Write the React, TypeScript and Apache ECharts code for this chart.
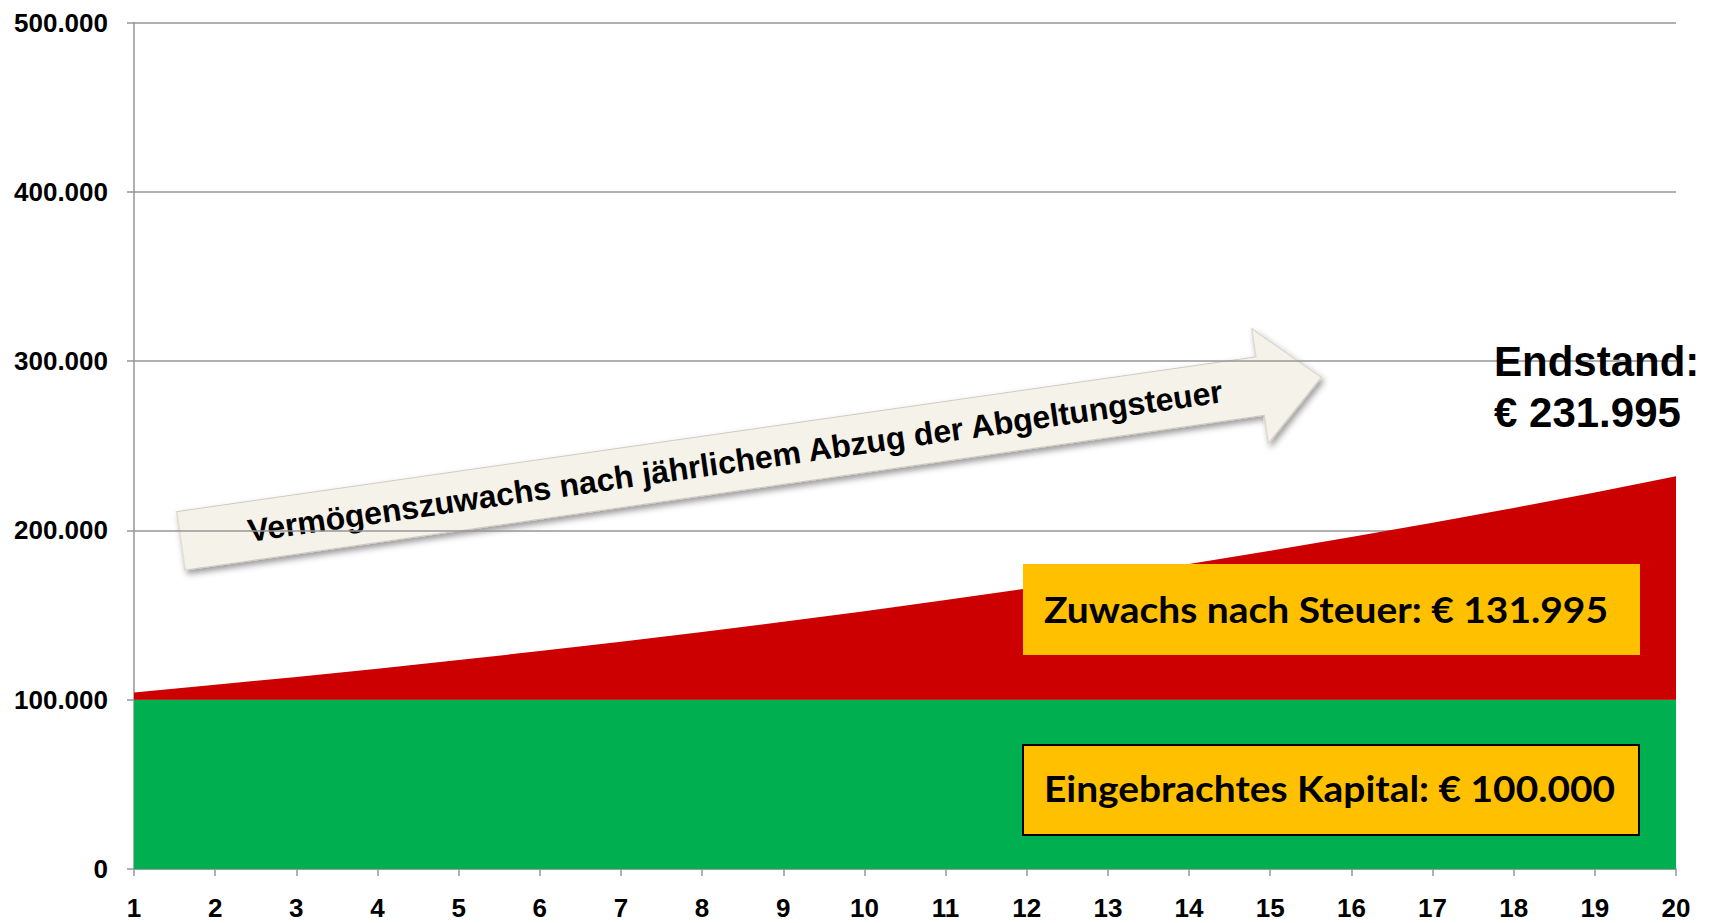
import React, { useEffect, useRef } from "react";
import * as echarts from "echarts";

const years = ["1","2","3","4","5","6","7","8","9","10","11","12","13","14","15","16","17","18","19","20"];
const capital = [100000,100000,100000,100000,100000,100000,100000,100000,100000,100000,100000,100000,100000,100000,100000,100000,100000,100000,100000,100000];
const endValues = [104297,108779,113453,118328,123413,128716,134247,140015,146032,152307,158851,165677,172796,180222,187966,196043,204467,213260,222430,231995];
const yTicks = { min: 0, max: 500000, interval: 100000 };

const arrowText = "Vermögenszuwachs nach jährlichem Abzug der Abgeltungsteuer";
const gainText = "Zuwachs nach Steuer: € 131.995";
const capitalText = "Eingebrachtes Kapital: € 100.000";
const endLine1 = "Endstand:";
const endLine2 = "€ 231.995";

const fmt = (v: number) => String(v).replace(/\B(?=(\d{3})+(?!\d))/g, ".");

function measure(text: string, font: string) {
  const c = document.createElement("canvas");
  const ctx = c.getContext("2d")!;
  ctx.font = font;
  return ctx.measureText(text).width;
}

export default function App() {
  const ref = useRef<HTMLDivElement>(null);
  useEffect(() => {
    if (!ref.current) return;
    const chart = echarts.init(ref.current, undefined, { renderer: "svg" });
    const gains = endValues.map((v, i) => v - capital[i]);
    const boxFont = "Lato, 'Open Sans', sans-serif";
    const boxSize = 36;
    const gainScale = 564 / measure(gainText, `bold ${boxSize}px Lato`);
    const capScale = 571 / measure(capitalText, `bold ${boxSize}px Lato`);
    const axisColor = "#969696";
    const labelFont = "'Liberation Sans', Arial, sans-serif";

    chart.setOption({
      animation: false,
      grid: { left: 134, right: 38, top: 22.5, bottom: 54 },
      xAxis: {
        type: "category",
        data: years,
        boundaryGap: false,
        axisLine: { show: true, lineStyle: { color: axisColor, width: 1.5 } },
        axisTick: { show: true, length: 7, lineStyle: { color: axisColor, width: 1.5 } },
        axisLabel: { fontSize: 26, fontWeight: "bold", color: "#000", fontFamily: labelFont, margin: 26 },
        splitLine: { show: false },
      },
      yAxis: {
        type: "value",
        min: yTicks.min,
        max: yTicks.max,
        interval: yTicks.interval,
        axisLine: { show: true, lineStyle: { color: axisColor, width: 1.5 } },
        axisTick: { show: true, length: 7, lineStyle: { color: axisColor, width: 1.5 } },
        axisLabel: { fontSize: 26, fontWeight: "bold", color: "#000", fontFamily: labelFont, margin: 26, formatter: (v: number) => fmt(v) },
        splitLine: { show: true, lineStyle: { color: axisColor, width: 1.5 } },
      },
      series: [
        {
          name: "Eingebrachtes Kapital",
          type: "line",
          stack: "total",
          data: capital,
          symbol: "none",
          lineStyle: { width: 0 },
          areaStyle: { color: "#00AF50", opacity: 1 },
        },
        {
          name: "Zuwachs nach Steuer",
          type: "line",
          stack: "total",
          data: gains,
          symbol: "none",
          lineStyle: { width: 0 },
          areaStyle: { color: "#CC0000", opacity: 1 },
        },
      ],
      graphic: [
        {
          type: "group",
          x: 180.8,
          y: 540.85,
          rotation: 0.1429,
          z: 100,
          children: [
            {
              type: "polygon",
              shape: {
                points: [[0, -29.5], [1090, -29.5], [1090, -58], [1152, 0], [1090, 58], [1090, 29.5], [0, 29.5]],
              },
              style: {
                fill: "#F5F2E9",
                stroke: "#CFCBC1",
                lineWidth: 1,
                shadowBlur: 6,
                shadowOffsetX: 2,
                shadowOffsetY: 4,
                shadowColor: "rgba(0,0,0,0.4)",
              },
            },
            {
              type: "text",
              x: 560,
              y: 0,
              style: {
                text: arrowText,
                font: `bold 32px ${labelFont}`,
                fill: "#000",
                align: "center",
                verticalAlign: "middle",
              },
            },
          ],
        },
        {
          type: "rect",
          z: 100,
          shape: { x: 1023, y: 564, width: 617, height: 91 },
          style: { fill: "#FFC000" },
        },
        {
          type: "text",
          z: 101,
          x: 1044,
          y: 609,
          scaleX: gainScale,
          style: { text: gainText, font: `bold ${boxSize}px ${boxFont}`, fill: "#000", align: "left", verticalAlign: "middle" },
        },
        {
          type: "rect",
          z: 100,
          shape: { x: 1023, y: 745, width: 616, height: 90 },
          style: { fill: "#FFC000", stroke: "#000", lineWidth: 2 },
        },
        {
          type: "text",
          z: 101,
          x: 1044,
          y: 788,
          scaleX: capScale,
          style: { text: capitalText, font: `bold ${boxSize}px ${boxFont}`, fill: "#000", align: "left", verticalAlign: "middle" },
        },
        {
          type: "text",
          z: 101,
          x: 1494,
          y: 361,
          style: { text: endLine1, font: `bold 42px ${labelFont}`, fill: "#000", align: "left", verticalAlign: "middle" },
        },
        {
          type: "text",
          z: 101,
          x: 1494,
          y: 412.5,
          style: { text: endLine2, font: `bold 42px ${labelFont}`, fill: "#000", align: "left", verticalAlign: "middle" },
        },
      ],
    });
    return () => chart.dispose();
  }, []);
  return <div ref={ref} style={{ position: "absolute", left: 0, top: 0, width: 1714, height: 923, background: "#fff" }} />;
}
